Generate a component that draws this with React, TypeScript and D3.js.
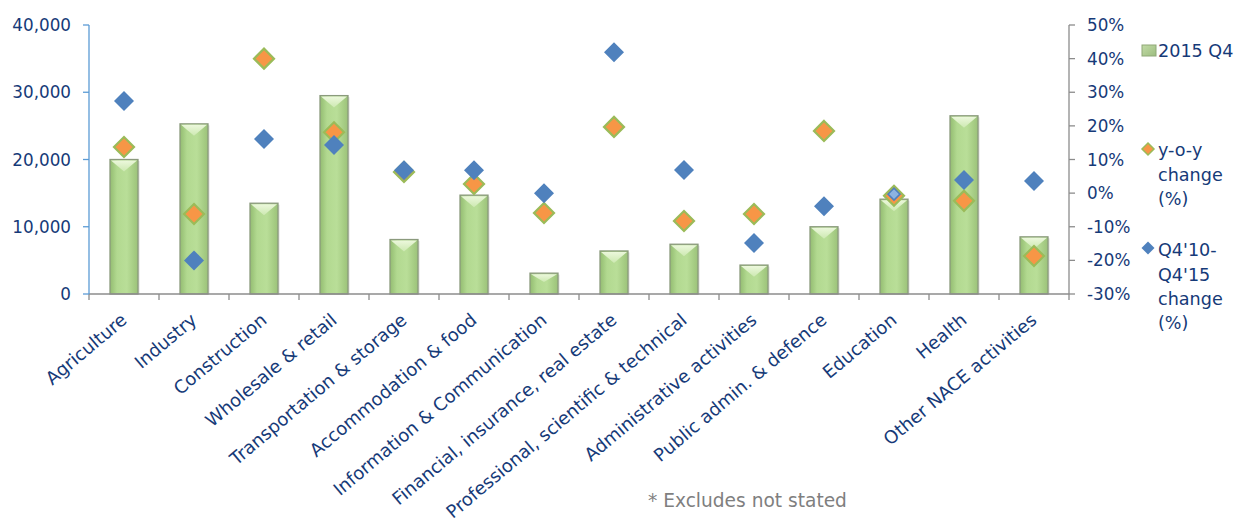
import React from "react";
import * as d3 from "d3";

const categories = [
  "Agriculture",
  "Industry",
  "Construction",
  "Wholesale & retail",
  "Transportation & storage",
  "Accommodation & food",
  "Information & Communication",
  "Financial, insurance, real estate",
  "Professional, scientific & technical",
  "Administrative activities",
  "Public admin. & defence",
  "Education",
  "Health",
  "Other NACE activities",
];
const employment2015Q4 = [20000, 25300, 13500, 29500, 8100, 14700, 3100, 6400, 7400, 4300, 10000, 14100, 26500, 8500];
const yoyChange = [13.7, -6.2, 40.0, 18.1, 6.3, 2.7, -5.9, 19.7, -8.3, -6.2, 18.5, -0.8, -2.3, -18.7];
const fiveYearChange = [27.4, -20.0, 16.1, 14.3, 6.8, 6.8, 0.0, 41.9, 6.9, -14.8, -3.9, -0.3, 3.9, 3.6];
const leftTicks = [0, 10000, 20000, 30000, 40000];
const rightTicks = [-30, -20, -10, 0, 10, 20, 30, 40, 50];
const legendBar = ["2015 Q4"];
const legendYoy = ["y-o-y", "change", "(%)"];
const legendFive = ["Q4'10-", "Q4'15", "change", "(%)"];
const footnote = "* Excludes not stated";

const FONT = "'DejaVu Sans', Verdana, sans-serif";
const TXT = "#163a78";

const diamond = (cx: number, cy: number, r: number) =>
  `M${cx},${cy - r}L${cx + r},${cy}L${cx},${cy + r}L${cx - r},${cy}Z`;

export default function App() {
  const W = 1237, H = 519;
  const left = 89, right = 1069, top = 25, bottom = 294;
  const x = d3.scaleBand<string>().domain(categories).range([left, right]).paddingInner(0.6).paddingOuter(0.3);
  const yL = d3.scaleLinear().domain([0, 40000]).range([bottom, top]);
  const yR = d3.scaleLinear().domain([-30, 50]).range([bottom, top]);
  const fmt = d3.format(",");
  const step = x.step();
  const bw = x.bandwidth();

  return (
    <svg width={W} height={H} style={{ position: "absolute", left: 0, top: 0 }} fontFamily={FONT}>
      <defs>
        <linearGradient id="barG" x1="0" x2="1" y1="0" y2="0">
          <stop offset="0" stopColor="#93bc71" />
          <stop offset="0.25" stopColor="#b2d990" />
          <stop offset="0.6" stopColor="#b9de98" />
          <stop offset="1" stopColor="#9bc279" />
        </linearGradient>
        <linearGradient id="barTop" x1="0" x2="0" y1="0" y2="1">
          <stop offset="0" stopColor="#f2fbe4" />
          <stop offset="1" stopColor="#cfeab4" />
        </linearGradient>
        <linearGradient id="legG" x1="0" x2="1" y1="0" y2="1">
          <stop offset="0" stopColor="#c2dba7" />
          <stop offset="1" stopColor="#9dbd7f" />
        </linearGradient>
      </defs>
      <rect width={W} height={H} fill="#fff" />

      {/* bars */}
      {categories.map((c, i) => {
        const x0 = x(c)!;
        const y0 = yL(employment2015Q4[i]);
        const h = bottom - y0;
        const bev = Math.min(10, h / 3);
        return (
          <g key={c}>
            <rect x={x0 + 1.5} y={y0 + 1.5} width={bw} height={h - 1.5} fill="#bdbdbd" opacity={0.5} />
            <rect x={x0} y={y0} width={bw} height={h} fill="url(#barG)" stroke="#8b9a7d" strokeWidth={1.3} />
            <path
              d={`M${x0 + 1},${y0 + 1}L${x0 + bw - 1},${y0 + 1}L${x0 + bw / 2},${y0 + bev + 2}Z`}
              fill="url(#barTop)"
              opacity={0.9}
            />
          </g>
        );
      })}

      {/* axes */}
      <line x1={left} x2={right} y1={bottom} y2={bottom} stroke="#8c8c8c" strokeWidth={1.3} />
      {d3.range(categories.length + 1).map((k) => (
        <line key={k} x1={left + k * step} x2={left + k * step} y1={bottom} y2={bottom + 6} stroke="#8c8c8c" strokeWidth={1.3} />
      ))}
      <line x1={left} x2={left} y1={top} y2={bottom} stroke="#5b9bd5" strokeWidth={1.3} />
      {leftTicks.map((t) => (
        <g key={t}>
          <line x1={left - 6} x2={left} y1={yL(t)} y2={yL(t)} stroke="#5b9bd5" strokeWidth={1.3} />
          <text x={71} y={yL(t)} dy="0.36em" textAnchor="end" fontSize={16.8} fill={TXT}>
            {fmt(t)}
          </text>
        </g>
      ))}
      <line x1={right} x2={right} y1={top} y2={bottom} stroke="#8c8c8c" strokeWidth={1.3} />
      {rightTicks.map((t) => (
        <g key={t}>
          <line x1={right} x2={right + 6} y1={yR(t)} y2={yR(t)} stroke="#8c8c8c" strokeWidth={1.3} />
          <text x={1087} y={yR(t)} dy="0.36em" textAnchor="start" fontSize={16.8} fill={TXT}>
            {t}%
          </text>
        </g>
      ))}

      {/* markers */}
      {categories.map((c, i) => {
        const cx = x(c)! + bw / 2;
        return (
          <path key={"o" + c} d={diamond(cx, yR(yoyChange[i]), 10)} fill="#f79646" stroke="#9bbb59" strokeWidth={2.2} />
        );
      })}
      {categories.map((c, i) => {
        const cx = x(c)! + bw / 2;
        const small = c === "Education";
        return small ? (
          <path key={"b" + c} d={diamond(cx, yR(fiveYearChange[i]), 6)} fill="#8db3e2" stroke="#4f81bd" strokeWidth={1.5} />
        ) : (
          <path key={"b" + c} d={diamond(cx, yR(fiveYearChange[i]), 10)} fill="#4f81bd" />
        );
      })}

      {/* category labels */}
      {categories.map((c) => {
        const cx = x(c)! + bw / 2;
        return (
          <text
            key={"l" + c}
            transform={`translate(${cx + 4},${322}) rotate(-40)`}
            textAnchor="end"
            fontSize={18}
            fill={TXT}
          >
            {c}
          </text>
        );
      })}

      {/* legend */}
      <rect x={1142} y={45} width={14} height={11} fill="url(#legG)" stroke="#8fa876" strokeWidth={1} />
      <text x={1158} y={51} dy="0.36em" fontSize={17.6} fill={TXT}>
        {legendBar[0]}
      </text>
      <path d={diamond(1148, 149, 6)} fill="#f79646" stroke="#9bbb59" strokeWidth={1.5} />
      {legendYoy.map((s, k) => (
        <text key={s} x={1158} y={150 + k * 24.5} dy="0.36em" fontSize={17.6} fill={TXT}>
          {s}
        </text>
      ))}
      <path d={diamond(1148, 248, 6.5)} fill="#4f81bd" />
      {legendFive.map((s, k) => (
        <text key={s} x={1158} y={250 + k * 24.2} dy="0.36em" fontSize={17.6} fill={TXT}>
          {s}
        </text>
      ))}

      <text x={648} y={507} fontSize={18.6} fill="#7f7f7f">
        {footnote}
      </text>
    </svg>
  );
}
